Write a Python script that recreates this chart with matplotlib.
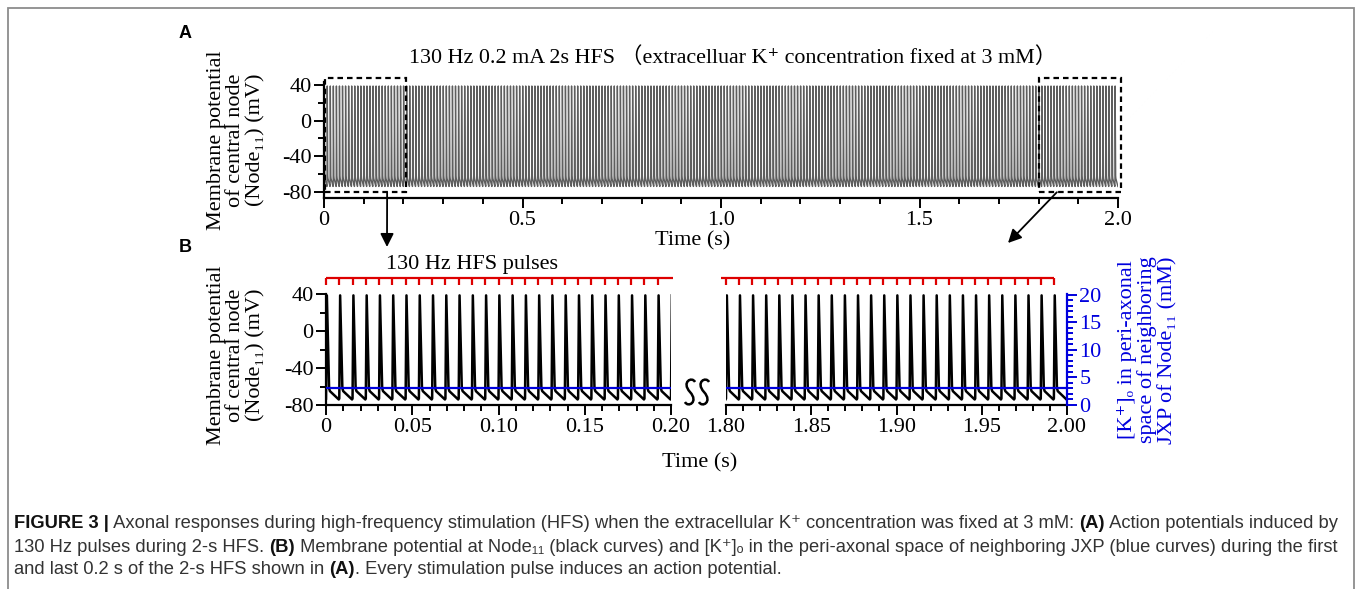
import matplotlib
matplotlib.use("Agg")
import matplotlib.pyplot as plt
import numpy as np
from matplotlib.patches import Rectangle, PathPatch
from matplotlib.path import Path
from matplotlib.ticker import MultipleLocator, FixedLocator, FixedFormatter

# stimulus / response values
pulse_rate_hz = 130
stim_duration_s = 2.0
ap_t_ms = [0.0, 0.5, 1.8, 2.3, 7.4]        # one action potential after a pulse
ap_v_mv = [-73, 39, -62, -65, -74]
k_conc_mM = 3.0                            # fixed [K+]o
win_first = (0.0, 0.2)
win_last = (1.8, 2.0)

a_xticks = [0, 0.5, 1.0, 1.5, 2.0]
a_xlabels = ["0", "0.5", "1.0", "1.5", "2.0"]
v_ticks = [40, 0, -40, -80]
b_left_xticks = [0, 0.05, 0.10, 0.15, 0.20]
b_left_xlabels = ["0", "0.05", "0.10", "0.15", "0.20"]
b_right_xticks = [1.80, 1.85, 1.90, 1.95, 2.00]
b_right_xlabels = ["1.80", "1.85", "1.90", "1.95", "2.00"]
k_ticks = [0, 5, 10, 15, 20]

pulses = np.arange(0, stim_duration_s, 1.0 / pulse_rate_hz)
trace_t = np.concatenate([p + np.array(ap_t_ms) / 1000 for p in pulses])
trace_v = np.tile(ap_v_mv, len(pulses))

plt.rcParams["axes.unicode_minus"] = False

W, H = 1357, 589
SERIF = ["Liberation Serif", "DejaVu Serif", "Noto Sans CJK SC"]
SANS = ["Liberation Sans", "DejaVu Sans"]
FS = 16
BLUE = "#0000dd"
RED = "#dd0000"

fig = plt.figure(figsize=(W / 100, H / 100), dpi=100)


def box(l, t, r, b):
    return [l / W, 1 - b / H, (r - l) / W, (b - t) / H]


def fpx(x, y):
    return x / W, 1 - y / H


def style_axis(ax):
    for s in ax.spines.values():
        s.set_linewidth(1.6)
    ax.tick_params(which="both", direction="out", width=1.4, labelsize=FS,
                   pad=2)
    ax.tick_params(which="major", length=7)
    ax.tick_params(which="minor", length=4)
    for lab in ax.get_xticklabels() + ax.get_yticklabels():
        lab.set_family(SERIF)


# ---- frame round the whole figure
fig.add_artist(Rectangle(fpx(8, 620), (1354 - 8) / W, (620 - 8) / H,
                         transform=fig.transFigure, fill=False,
                         edgecolor="#8c8c8c", lw=1.3))

# ---- panel A
axA = fig.add_axes(box(324, 82, 1118, 198))
axA.plot(trace_t, trace_v, color="#5e5e5e", lw=1.0)
axA.set_xlim(0, stim_duration_s)
axA.set_ylim(-87, 43.5)
axA.spines["top"].set_visible(False)
axA.spines["right"].set_visible(False)
axA.xaxis.set_major_locator(FixedLocator(a_xticks))
axA.xaxis.set_major_formatter(FixedFormatter(a_xlabels))
axA.xaxis.set_minor_locator(MultipleLocator(0.1))
axA.yaxis.set_major_locator(FixedLocator(v_ticks))
axA.yaxis.set_minor_locator(MultipleLocator(20))
style_axis(axA)

for w in (win_first, win_last):
    axA.add_patch(Rectangle((w[0] + 0.002, -80.5), w[1] - w[0] + 0.005, 128.5,
                            fill=False, ls=(0, (2.5, 1.8)), lw=1.6,
                            edgecolor="k", clip_on=False, zorder=5))

axA.annotate("", xy=(387 / W, 1 - 247 / H), xycoords="figure fraction",
             xytext=(0.159, -80.5), textcoords="data",
             arrowprops=dict(arrowstyle="-|>", color="k", lw=1.3,
                             mutation_scale=20, shrinkA=0, shrinkB=0))
axA.annotate("", xy=(1008 / W, 1 - 243 / H), xycoords="figure fraction",
             xytext=(1.846, -80.5), textcoords="data",
             arrowprops=dict(arrowstyle="-|>", color="k", lw=1.3,
                             mutation_scale=20, shrinkA=0, shrinkB=0))

fig.text(*fpx(733, 57), "130 Hz 0.2 mA 2s HFS （extracelluar K\u207a concentration fixed at 3 mM）",
         family=SERIF, fontsize=15.8, ha="center", va="center")
fig.text(*fpx(693, 241), "Time (s)", family=SERIF, fontsize=FS,
         ha="center", va="center")
ylab_v = "Membrane potential\nof central node\n(Node\u2081\u2081) (mV)"
fig.text(*fpx(236, 140), ylab_v, family=SERIF, fontsize=FS, rotation=90,
         ha="center", va="center", multialignment="center", linespacing=1.05)
fig.text(*fpx(185, 34), "A", family=SANS, fontsize=13, weight="bold",
         ha="center", va="center")
fig.text(*fpx(185, 248), "B", family=SANS, fontsize=13, weight="bold",
         ha="center", va="center")

# ---- panel B
axL = fig.add_axes(box(326, 294, 671, 405))
axR = fig.add_axes(box(726, 294, 1067, 405))
twins = []
for ax, win, xt, xl in ((axL, win_first, b_left_xticks, b_left_xlabels),
                        (axR, win_last, b_right_xticks, b_right_xlabels)):
    ax.plot(trace_t, trace_v, color="k", lw=1.8)
    ax.set_xlim(*win)
    ax.set_ylim(-80, 40.5)
    ax.spines["top"].set_visible(False)
    ax.spines["right"].set_visible(False)
    ax.xaxis.set_major_locator(FixedLocator(xt))
    ax.xaxis.set_major_formatter(FixedFormatter(xl))
    ax.xaxis.set_minor_locator(MultipleLocator(0.01))
    ax.yaxis.set_major_locator(FixedLocator(v_ticks))
    ax.yaxis.set_minor_locator(MultipleLocator(20))
    style_axis(ax)

    p = pulses[(pulses >= win[0] - 1e-9) & (pulses < win[1])]
    tr = ax.get_xaxis_transform()
    ax.vlines(p, 1.077, 1.14, color=RED, lw=1.6, transform=tr, clip_on=False)
    x0 = win[0] - (0.003 if win is win_last else 0)
    x1 = win[1] + 0.001 if win is win_first else p[-1]
    ax.hlines(1.14, x0, x1, color=RED, lw=1.6, transform=tr, clip_on=False)

    k = ax.twinx()
    k.set_ylim(0, 20.1)
    k.plot(win, [k_conc_mM, k_conc_mM], color=BLUE, lw=1.6)
    for s in k.spines.values():
        s.set_visible(False)
    twins.append(k)

kL, kR = twins
kL.set_yticks([])
kL.tick_params(axis="y", which="both", right=False, labelright=False)

axR.spines["left"].set_visible(False)
axR.tick_params(axis="y", which="both", left=False, labelleft=False)

kR.spines["right"].set_visible(True)
kR.yaxis.set_major_locator(FixedLocator(k_ticks))
kR.yaxis.set_minor_locator(MultipleLocator(1))
style_axis(kR)
kR.spines["right"].set_color(BLUE)
kR.tick_params(axis="y", which="both", colors=BLUE, labelcolor=BLUE)

fig.text(*fpx(472, 265), "130 Hz HFS pulses", family=SERIF, fontsize=FS,
         ha="center", va="center")
fig.text(*fpx(700, 463), "Time (s)", family=SERIF, fontsize=FS,
         ha="center", va="center")
fig.text(*fpx(236, 355), ylab_v, family=SERIF, fontsize=FS, rotation=90,
         ha="center", va="center", multialignment="center", linespacing=1.05)
fig.text(*fpx(1147, 350),
         "[K\u207a]\u2092 in peri-axonal\nspace of neighboring\nJXP of Node\u2081\u2081 (mM)",
         family=SERIF, fontsize=FS, rotation=90, color=BLUE,
         ha="center", va="center", multialignment="center", linespacing=1.05)

# axis break mark: two S strokes
for cx in (690, 704):
    verts = [fpx(cx + 5, 382), fpx(cx + 2, 376), fpx(cx - 9, 382), fpx(cx, 392),
             fpx(cx + 9, 402), fpx(cx - 2, 408), fpx(cx - 5, 402)]
    codes = [Path.MOVETO] + [Path.CURVE4] * 6
    fig.add_artist(PathPatch(Path(verts, codes), transform=fig.transFigure,
                             fill=False, lw=1.8, edgecolor="k"))

# ---- caption (mixed bold / regular runs)
caption = [
    [("FIGURE 3 |", "bold"),
     (" Axonal responses during high-frequency stimulation (HFS) when the extracellular K\u207a concentration was fixed at 3 mM: ", "normal"),
     ("(A)", "bold"), (" Action potentials induced by", "normal")],
    [("130 Hz pulses during 2-s HFS. ", "normal"), ("(B)", "bold"),
     (" Membrane potential at Node\u2081\u2081 (black curves) and [K\u207a]\u2092 in the peri-axonal space of neighboring JXP (blue curves) during the first", "normal")],
    [("and last 0.2 s of the 2-s HFS shown in ", "normal"), ("(A)", "bold"),
     (". Every stimulation pulse induces an action potential.", "normal")],
]
renderer = fig.canvas.get_renderer()
for i, line in enumerate(caption):
    x = 14
    y = 524 + i * 23
    for txt, wt in line:
        t = fig.text(x / W, 1 - y / H, txt, family=SANS, fontsize=13.28,
                     weight=wt, color="#111111" if wt == "bold" else "#333333",
                     ha="left", va="center")
        x = t.get_window_extent(renderer).x1

fig.savefig("out.png", dpi=100)
